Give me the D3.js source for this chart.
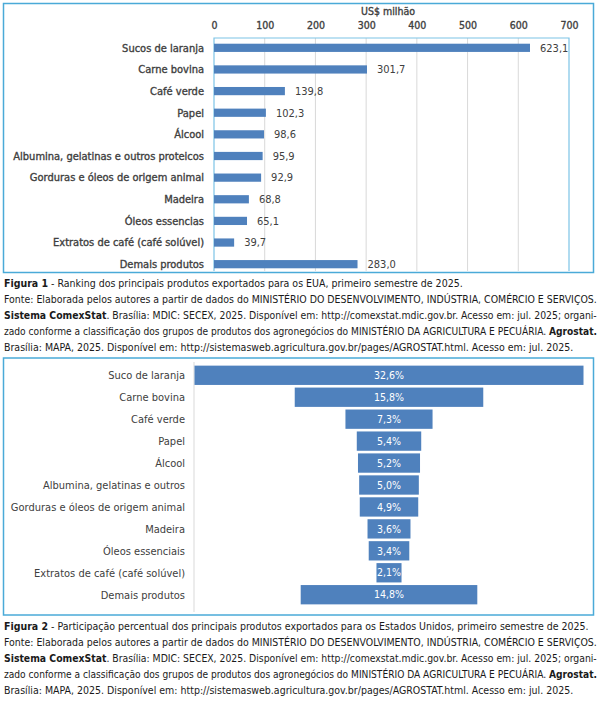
<!DOCTYPE html>
<html>
<head>
<meta charset="utf-8">
<script src="https://cdn.jsdelivr.net/npm/d3@7"></script>
<style>
body { margin: 0; background: #fff; }
</style>
</head>
<body>
<svg id="chart" width="608" height="711"></svg>
<script>
// Figura 1 - valores em US$ milhão
const produtos1 = ["Sucos de laranja", "Carne bovina", "Café verde", "Papel", "Álcool",
    "Albumina, gelatinas e outros proteicos", "Gorduras e óleos de origem animal", "Madeira",
    "Óleos essencias", "Extratos de café (café solúvel)", "Demais produtos"];
const valores1 = [623.1, 301.7, 139.8, 102.3, 98.6, 95.9, 92.9, 68.8, 65.1, 39.7, 283.0];
const ticks1 = [0, 100, 200, 300, 400, 500, 600, 700];

// Figura 2 - participação percentual
const produtos2 = ["Suco de laranja", "Carne bovina", "Café verde", "Papel", "Álcool",
    "Albumina, gelatinas e outros", "Gorduras e óleos de origem animal", "Madeira",
    "Óleos essenciais", "Extratos de café (café solúvel)", "Demais produtos"];
const percentuais2 = [32.6, 15.8, 7.3, 5.4, 5.2, 5.0, 4.9, 3.6, 3.4, 2.1, 14.8];

// partes de cada linha: [texto, negrito]
const fonteLinhas = [
    [["Fonte: Elaborada pelos autores a partir de dados do MINISTÉRIO DO DESENVOLVIMENTO, INDÚSTRIA, COMÉRCIO E SERVIÇOS.", false]],
    [["Sistema ComexStat", true], [". Brasília: MDIC: SECEX, 2025. Disponível em: http://comexstat.mdic.gov.br. Acesso em: jul. 2025; organi-", false]],
    [["zado conforme a classificação dos grupos de produtos dos agronegócios do MINISTÉRIO DA AGRICULTURA E PECUÁRIA. ", false], ["Agrostat.", true]],
    [["Brasília: MAPA, 2025. Disponível em: http://sistemasweb.agricultura.gov.br/pages/AGROSTAT.html. Acesso em: jul. 2025.", false]]
];
const legenda1 = [[["Figura 1", true], [" - Ranking dos principais produtos exportados para os EUA, primeiro semestre de 2025.", false]]].concat(fonteLinhas);
const legenda2 = [[["Figura 2", true], [" - Participação percentual dos principais produtos exportados para os Estados Unidos, primeiro semestre de 2025.", false]]].concat(fonteLinhas);

const azul = "#4f81bd";
const moldura = "#4aaad8";
const textoCor = "#404040";
const fonte = "'DejaVu Sans Condensed', 'DejaVu Sans', sans-serif";

const svg = d3.select("#chart").style("font-family", fonte);

// ---------- Figura 1 ----------
const g1 = svg.append("g");

g1.append("rect")
    .attr("x", 3.5).attr("y", 3.5)
    .attr("width", 590).attr("height", 269)
    .attr("fill", "none").attr("stroke", moldura).attr("stroke-width", 1.5);

const x1 = d3.scaleLinear().domain([0, 700]).range([214, 569]);
const y1 = d3.scaleBand().domain(produtos1).range([37, 275]).paddingInner(0.62).paddingOuter(0.31);

// grade
g1.append("g").selectAll("line")
    .data(ticks1.slice(1, -1))
    .join("line")
    .attr("x1", d => x1(d)).attr("x2", d => x1(d))
    .attr("y1", 38).attr("y2", 271)
    .attr("stroke", "#d9d9d9");

// moldura da área de plotagem
g1.append("path")
    .attr("d", `M${x1(0)},271V38H${x1(700)}V271`)
    .attr("fill", "none").attr("stroke", "#7cc3e6").attr("stroke-width", 1.2);

// eixo superior
const eixo1 = g1.append("g")
    .attr("transform", "translate(0,25.5)")
    .call(d3.axisTop(x1).tickValues(ticks1).tickSize(0).tickPadding(0));
eixo1.select(".domain").remove();
eixo1.selectAll("text")
    .attr("dy", "0.35em")
    .style("font-family", fonte)
    .style("font-size", "10.5px")
    .attr("fill", textoCor)
    .attr("stroke", textoCor).attr("stroke-width", 0.35);

g1.append("text")
    .attr("x", 388).attr("y", 11.5).attr("dy", "0.35em")
    .attr("text-anchor", "middle")
    .style("font-size", "10.5px")
    .attr("fill", textoCor)
    .attr("stroke", textoCor).attr("stroke-width", 0.35)
    .text("US$ milhão");

g1.append("g").selectAll("rect")
    .data(valores1)
    .join("rect")
    .attr("x", x1(0))
    .attr("y", (d, i) => y1(produtos1[i]))
    .attr("width", d => x1(d) - x1(0))
    .attr("height", y1.bandwidth())
    .attr("fill", azul);

g1.append("g").selectAll("text")
    .data(produtos1)
    .join("text")
    .attr("x", 204)
    .attr("y", d => y1(d) + y1.bandwidth() / 2)
    .attr("dy", "0.35em")
    .attr("text-anchor", "end")
    .style("font-size", "11px")
    .attr("fill", textoCor)
    .attr("stroke", textoCor).attr("stroke-width", 0.35)
    .text(d => d);

g1.append("g").selectAll("text")
    .data(valores1)
    .join("text")
    .attr("x", d => x1(d) + 10)
    .attr("y", (d, i) => y1(produtos1[i]) + y1.bandwidth() / 2)
    .attr("dy", "0.35em")
    .style("font-size", "11px")
    .attr("fill", textoCor)
    .text(d => d3.format(".1f")(d).replace(".", ","));

// ---------- Figura 2 ----------
const g2 = svg.append("g");

g2.append("rect")
    .attr("x", 3.5).attr("y", 358)
    .attr("width", 590).attr("height", 257)
    .attr("fill", "none").attr("stroke", moldura).attr("stroke-width", 1.5);

const centro = 389;
const w2 = d3.scaleLinear().domain([0, 32.6]).range([0, 389]);
const y2 = d3.scaleBand().domain(produtos2).range([363, 607]).padding(0.12);

g2.append("line")
    .attr("x1", 194).attr("x2", 194)
    .attr("y1", 362).attr("y2", 612)
    .attr("stroke", "#d9d9d9");

g2.append("g").selectAll("rect")
    .data(percentuais2)
    .join("rect")
    .attr("x", d => centro - w2(d) / 2)
    .attr("y", (d, i) => y2(produtos2[i]))
    .attr("width", d => w2(d))
    .attr("height", y2.bandwidth())
    .attr("fill", azul);

g2.append("g").selectAll("text")
    .data(produtos2)
    .join("text")
    .attr("x", 185)
    .attr("y", d => y2(d) + y2.bandwidth() / 2)
    .attr("dy", "0.35em")
    .attr("text-anchor", "end")
    .style("font-size", "11px")
    .attr("fill", textoCor)
    .text(d => d);

g2.append("g").selectAll("text")
    .data(percentuais2)
    .join("text")
    .attr("x", centro)
    .attr("y", (d, i) => y2(produtos2[i]) + y2.bandwidth() / 2)
    .attr("dy", "0.35em")
    .attr("text-anchor", "middle")
    .style("font-size", "10.5px")
    .attr("fill", "#fff")
    .text(d => d3.format(".1f")(d).replace(".", ",") + "%");

// ---------- legendas justificadas ----------
function legenda(linhas, yTopo) {
    const esq = 4, dir = 598;
    linhas.forEach((partes, i) => {
        const y = yTopo + i * 16;
        const t = svg.append("text")
            .attr("x", esq)
            .attr("y", y)
            .attr("dy", "0.35em")
            .style("font-size", "10.5px")
            .attr("fill", "#1a1a1a");
        partes.forEach(p => {
            t.append("tspan")
                .style("font-weight", p[1] ? "bold" : "normal")
                .text(p[0]);
        });
        // linhas do meio justificadas
        if (i > 0 && i < linhas.length - 1) {
            const larg = t.node().getComputedTextLength();
            const espacos = partes.map(p => p[0]).join("").split(" ").length - 1;
            const folga = (dir - esq - larg) / espacos;
            if (folga >= 0) {
                t.style("word-spacing", folga + "px");
            } else {
                // linha longa demais: comprime na horizontal
                t.attr("x", 0).attr("y", 0)
                    .attr("transform", `translate(${esq},${y}) scale(${(dir - esq) / larg},1)`);
            }
        }
    });
}
legenda(legenda1, 283);
legenda(legenda2, 626);
</script>
</body>
</html>
